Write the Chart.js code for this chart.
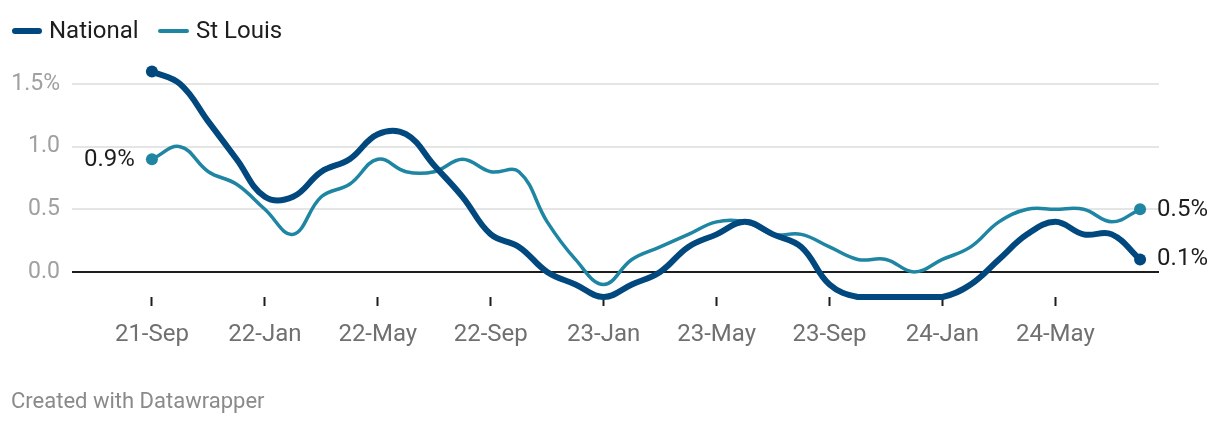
<!DOCTYPE html>
<html>
<head>
<meta charset="utf-8">
<script src="https://cdn.jsdelivr.net/npm/chart.js@4.4.1/dist/chart.umd.min.js"></script>
<style>
  html, body { margin: 0; padding: 0; background: #fff; }
  body { width: 1220px; height: 424px; position: relative; overflow: hidden; font-family: Roboto, sans-serif; }
  #chartWrap { position: absolute; left: 0; top: 0; width: 1220px; height: 424px; }
  .legend-item { position: absolute; top: 16px; font-size: 24px; color: #1d1d1d; line-height: 28px; }
  .swatch { position: absolute; top: 12px; height: 5px; border-radius: 3px; }
  #footer { position: absolute; left: 11px; top: 388px; font-size: 22px; color: #8a8a8a; }
</style>
</head>
<body>
<div id="chartWrap"><canvas id="trendChart" width="1220" height="424"></canvas></div>
<div class="legend-item" style="left:12px;"><span class="swatch" style="left:0;width:30px;background:#00487e;height:6px;"></span><span style="margin-left:37px;">National</span></div>
<div class="legend-item" style="left:158px;"><span class="swatch" style="left:0;width:31px;background:#1e85a3;height:4px;top:13px;"></span><span style="margin-left:38px;">St Louis</span></div>
<div id="footer">Created with Datawrapper</div>
<script>
// Monthly values, Sep 2021 - Aug 2024
const months = [
    '21-Sep', '21-Oct', '21-Nov', '21-Dec',
    '22-Jan', '22-Feb', '22-Mar', '22-Apr', '22-May', '22-Jun', '22-Jul', '22-Aug',
    '22-Sep', '22-Oct', '22-Nov', '22-Dec',
    '23-Jan', '23-Feb', '23-Mar', '23-Apr', '23-May', '23-Jun', '23-Jul', '23-Aug',
    '23-Sep', '23-Oct', '23-Nov', '23-Dec',
    '24-Jan', '24-Feb', '24-Mar', '24-Apr', '24-May', '24-Jun', '24-Jul', '24-Aug'
];
const national = [
    1.6, 1.5, 1.2, 0.9, 0.6, 0.6, 0.8, 0.9, 1.1, 1.1, 0.85, 0.6,
    0.3, 0.2, 0.0, -0.1, -0.2, -0.1, 0.0, 0.2, 0.3, 0.4, 0.3, 0.2,
    -0.1, -0.2, -0.2, -0.2, -0.2, -0.1, 0.1, 0.3, 0.4, 0.3, 0.3, 0.1
];
const stLouis = [
    0.9, 1.0, 0.8, 0.7, 0.5, 0.3, 0.6, 0.7, 0.9, 0.8, 0.8, 0.9,
    0.8, 0.8, 0.4, 0.1, -0.1, 0.1, 0.2, 0.3, 0.4, 0.4, 0.3, 0.3,
    0.2, 0.1, 0.1, 0.0, 0.1, 0.2, 0.4, 0.5, 0.5, 0.5, 0.4, 0.5
];
const xTickLabels = ['21-Sep', '22-Jan', '22-May', '22-Sep', '23-Jan', '23-May', '23-Sep', '24-Jan', '24-May'];
const yTickValues = [0, 0.5, 1.0, 1.5];

document.addEventListener('DOMContentLoaded', function() {
    const ctx = document.getElementById('trendChart').getContext('2d');
    const lastIdx = months.length - 1;

    function endPoints(c) {
        return (c.dataIndex === 0 || c.dataIndex === lastIdx) ? 6 : 0;
    }

    // value labels next to the first / last points
    const endLabels = {
        id: 'endLabels',
        afterDatasetsDraw(chart) {
            const g = chart.ctx;
            g.save();
            g.font = '24px Roboto';
            g.fillStyle = '#1d1d1d';
            g.textBaseline = 'middle';

            const sFirst = chart.getDatasetMeta(1).data[0];
            g.textAlign = 'right';
            g.fillText(stLouis[0].toFixed(1) + '%', sFirst.x - 17, sFirst.y + 1);

            g.textAlign = 'left';
            const sLast = chart.getDatasetMeta(1).data[lastIdx];
            g.fillText(stLouis[lastIdx].toFixed(1) + '%', sLast.x + 17, sLast.y + 1);
            const nLast = chart.getDatasetMeta(0).data[lastIdx];
            g.fillText(national[lastIdx].toFixed(1) + '%', nLast.x + 17, nLast.y);
            g.restore();
        }
    };

    new Chart(ctx, {
        type: 'line',
        data: {
            datasets: [{
                label: 'National',
                data: national.map((v, i) => ({ x: i, y: v })),
                borderColor: '#00487e',
                backgroundColor: '#00487e',
                borderWidth: 6,
                tension: 0.4,
                pointRadius: endPoints,
                pointHoverRadius: endPoints,
                pointBorderWidth: 0,
                borderCapStyle: 'round',
                borderJoinStyle: 'round',
                clip: false
            }, {
                label: 'St Louis',
                data: stLouis.map((v, i) => ({ x: i, y: v })),
                borderColor: '#1e85a3',
                backgroundColor: '#1e85a3',
                borderWidth: 3.5,
                tension: 0.4,
                pointRadius: endPoints,
                pointHoverRadius: endPoints,
                pointBorderWidth: 0,
                borderCapStyle: 'round',
                borderJoinStyle: 'round',
                clip: false
            }]
        },
        options: {
            responsive: false,
            animation: false,
            layout: { padding: { top: 59, right: 61, bottom: 77, left: 0 } },
            plugins: {
                legend: { display: false },
                tooltip: { enabled: false }
            },
            scales: {
                x: {
                    type: 'linear',
                    min: -2.831,
                    max: 35.67,
                    afterBuildTicks: function(scale) {
                        scale.ticks = xTickLabels.map(l => ({ value: months.indexOf(l) }));
                    },
                    afterFit: function(scale) { scale.height = 50; },
                    ticks: {
                        autoSkip: false,
                        maxRotation: 0,
                        padding: 15,
                        color: '#707070',
                        font: { family: 'Roboto', size: 24 },
                        callback: v => months[v]
                    },
                    grid: {
                        drawOnChartArea: false,
                        drawTicks: true,
                        tickLength: 9,
                        tickColor: '#1d1d1d',
                        tickWidth: 2
                    },
                    border: { display: false }
                },
                y: {
                    min: -0.2,
                    max: 1.7,
                    afterBuildTicks: function(scale) {
                        scale.ticks = yTickValues.map(v => ({ value: v }));
                    },
                    afterFit: function(scale) { scale.width = 72; },
                    ticks: {
                        padding: 12,
                        color: '#a0a0a0',
                        font: { family: 'Roboto', size: 23 },
                        callback: v => v === 1.5 ? '1.5%' : v.toFixed(1)
                    },
                    grid: {
                        drawTicks: false,
                        color: c => c.tick && c.tick.value === 0 ? '#1d1d1d' : '#e5e5e5',
                        lineWidth: 2
                    },
                    border: { display: false }
                }
            }
        },
        plugins: [endLabels]
    });
});
</script>
</body>
</html>
